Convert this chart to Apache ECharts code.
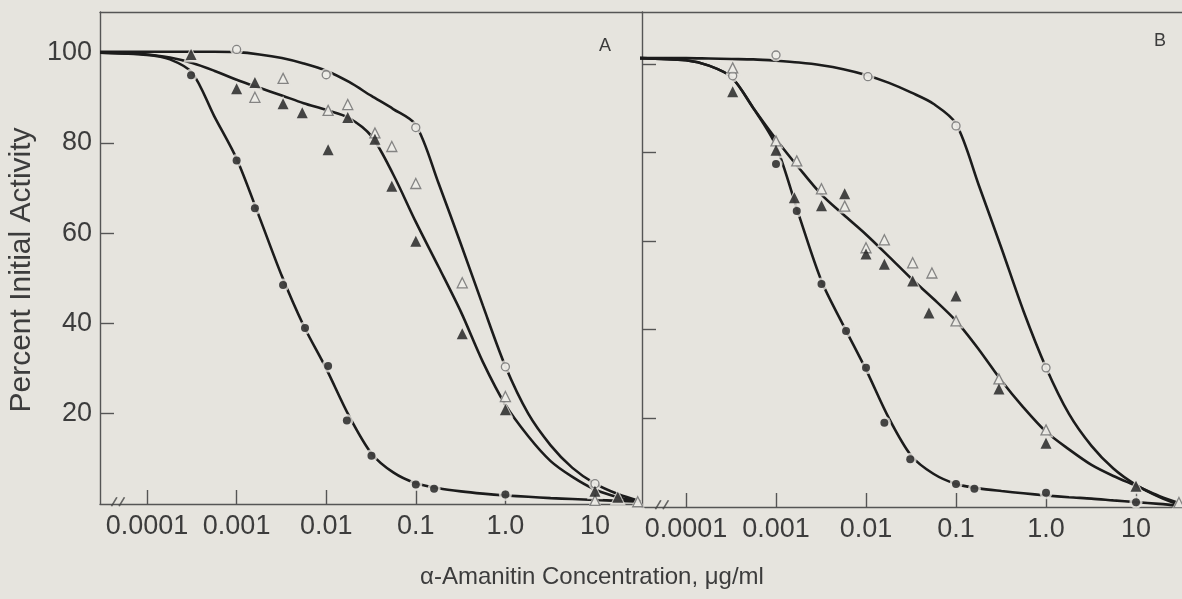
<!DOCTYPE html>
<html><head><meta charset="utf-8">
<script src="https://cdn.jsdelivr.net/npm/echarts@6/dist/echarts.min.js"></script>
<style>html,body{margin:0;padding:0;background:#e6e4de;}#c{width:1182px;height:599px;}</style>
</head><body><div id="c"></div>
<script>
// ---- tick labels ----
const xTickValues = [0.0001, 0.001, 0.01, 0.1, 1, 10];
const xTickLabels = ['0.0001', '0.001', '0.01', '0.1', '1.0', '10'];
const yTickValues = [20, 40, 60, 80, 100];
const yTickLabels = ['20', '40', '60', '80', '100'];

const curveX = [3.0e-5, 1e-4, 1.8e-4, 3.2e-4, 5.6e-4, 1e-3, 1.8e-3, 3.2e-3, 5.6e-3, 0.01, 0.018, 0.032, 0.056, 0.1, 0.18, 0.32, 0.56, 1, 1.8, 3.2, 5.6, 10, 18, 32];

// Panel A curves
const A_curveOpenCircle   = [100.2, 100.2, 100.2, 100.2, 100.2, 100.1, 99.6, 98.8, 97.6, 96.0, 93.5, 90.4, 87.5, 84.0, 71.0, 57.5, 44.0, 30.5, 20.0, 13.0, 8.0, 4.5, 2.2, 0.6];
const A_curveTriangle     = [100.0, 99.6, 98.9, 97.7, 96.0, 94.0, 92.2, 90.5, 88.8, 87.3, 85.5, 81.5, 73.0, 62.5, 52.5, 42.5, 31.5, 22.0, 15.0, 9.5, 6.0, 3.2, 1.5, 0.5];
const A_curveFilledCircle = [100.0, 99.5, 98.5, 95.5, 86.0, 76.5, 63.5, 50.5, 39.5, 30.0, 19.5, 11.2, 7.0, 4.6, 3.5, 2.8, 2.3, 1.9, 1.6, 1.3, 1.1, 0.9, 0.7, 0.5];

// Panel B curves
const B_curveOpenCircle   = [101.3, 101.3, 101.2, 101.1, 101.0, 100.7, 100.3, 99.7, 98.8, 97.5, 95.7, 93.5, 91.0, 86.5, 72.5, 58.4, 44.3, 31.5, 21.0, 13.8, 8.7, 5.0, 2.3, 0.3];
const B_curveTriangle     = [101.3, 100.8, 99.6, 97.0, 90.0, 83.0, 76.5, 70.5, 66.0, 61.5, 56.5, 51.5, 47.0, 42.0, 35.5, 28.5, 22.5, 17.0, 13.0, 9.5, 7.0, 4.8, 2.5, 0.7];
const B_curveFilledCircle = [101.3, 100.8, 99.6, 97.0, 90.0, 81.5, 65.8, 51.0, 41.0, 31.0, 20.0, 11.5, 7.5, 5.2, 4.2, 3.6, 3.1, 2.6, 2.2, 1.9, 1.5, 1.1, 0.7, 0.2];

// ---- measured points [concentration ug/ml, % initial activity] ----
const A_openCircle = [[0.001, 100.7], [0.01, 95.1], [0.1, 83.4], [1.0, 30.4], [10, 4.5]];
const A_openTriangle = [[0.0016, 90.1], [0.0033, 94.3], [0.0105, 87.2], [0.0174, 88.5], [0.035, 82.2], [0.054, 79.2], [0.1, 71.0], [0.33, 49.0], [1.0, 23.8], [10, 0.8], [30, 0.5]];
const A_filledTriangle = [[0.00031, 99.6], [0.001, 92.0], [0.0016, 93.4], [0.0033, 88.7], [0.0054, 86.7], [0.0105, 78.5], [0.0174, 85.6], [0.035, 80.8], [0.054, 70.4], [0.1, 58.2], [0.33, 37.7], [1.0, 20.9], [10, 2.8], [18, 1.5]];
const A_filledCircle = [[0.00031, 95.0], [0.001, 76.1], [0.0016, 65.5], [0.0033, 48.5], [0.0058, 39.0], [0.0105, 30.6], [0.017, 18.5], [0.032, 10.7], [0.1, 4.3], [0.16, 3.4], [1.0, 2.1]];

const B_openCircle = [[0.00033, 97.3], [0.001, 102.0], [0.0105, 97.1], [0.1, 86.0], [1.0, 31.4]];
const B_openTriangle = [[0.00033, 99.1], [0.001, 82.6], [0.0017, 78.1], [0.0032, 71.8], [0.0058, 67.9], [0.01, 58.5], [0.016, 60.3], [0.033, 55.1], [0.054, 52.8], [0.1, 42.0], [0.3, 28.9], [1.0, 17.4], [30, 1.0]];
const B_filledTriangle = [[0.00033, 93.7], [0.001, 80.5], [0.0016, 69.8], [0.0032, 68.0], [0.0058, 70.7], [0.01, 57.1], [0.016, 54.8], [0.033, 51.0], [0.05, 43.8], [0.1, 47.6], [0.3, 26.6], [1.0, 14.4], [10, 4.7]];
const B_filledCircle = [[0.001, 77.4], [0.0017, 66.8], [0.0032, 50.3], [0.006, 39.7], [0.01, 31.4], [0.016, 19.0], [0.031, 10.8], [0.1, 5.2], [0.16, 4.1], [1.0, 3.2], [10, 1.1]];

// axis-break marks on the x axes
const A_break = [[4.74e-5, 0.5]];
const B_break = [[5.4e-5, 0.5]];

// ---- styling ----
const bg = '#e6e4de';
const ink = '#1c1c1c';
const axisColor = '#555555';
const txt = '#3c3c3c';
const font = 'Liberation Sans';

function labelFor(v) {
  let best = 0, bd = Infinity;
  xTickValues.forEach((t, i) => { const d = Math.abs(Math.log10(v) - Math.log10(t)); if (d < bd) { bd = d; best = i; } });
  return bd < 0.01 ? xTickLabels[best] : '';
}
function yLabelFor(v) { const i = yTickValues.indexOf(Math.round(v)); return i >= 0 ? yTickLabels[i] : ''; }

function xBottom(g, min, max) {
  return { type: 'log', logBase: 10, gridIndex: g, min, max, position: 'bottom',
    axisLine: { show: true, onZero: false, lineStyle: { color: axisColor, width: 1.4 } },
    axisTick: { show: true, inside: true, length: 14, customValues: xTickValues, lineStyle: { color: axisColor, width: 1.4 } },
    axisLabel: { show: true, customValues: xTickValues, formatter: labelFor, fontSize: 27, color: txt, fontFamily: font, margin: 9 },
    splitLine: { show: false }, minorTick: { show: false }, minorSplitLine: { show: false } };
}
function xTop(g, min, max) {
  return { type: 'log', logBase: 10, gridIndex: g, min, max, position: 'top',
    axisLine: { show: true, onZero: false, lineStyle: { color: axisColor, width: 1.4 } },
    axisTick: { show: false }, axisLabel: { show: false }, splitLine: { show: false } };
}
function yLeft(g, max, showLabels) {
  return { type: 'value', gridIndex: g, min: 0, max,
    axisLine: { show: true, onZero: false, lineStyle: { color: axisColor, width: 1.4 } },
    axisTick: { show: true, inside: true, length: 14, customValues: yTickValues, lineStyle: { color: axisColor, width: 1.4 } },
    axisLabel: { show: showLabels, customValues: yTickValues, formatter: yLabelFor, fontSize: 27, color: txt, fontFamily: font, margin: 8 },
    splitLine: { show: false } };
}
function curve(vals, ax) {
  return { type: 'line', xAxisIndex: ax[0], yAxisIndex: ax[1], data: curveX.map((x, i) => [x, vals[i]]),
    smooth: 0.3, showSymbol: false, symbol: 'none', clip: true,
    lineStyle: { color: ink, width: 2.6 }, z: 2, silent: true };
}
function halo(data, ax, symbol, size) {
  return { type: 'scatter', xAxisIndex: ax[0], yAxisIndex: ax[1], data, symbol, symbolSize: size + 5,
    itemStyle: { color: bg }, z: 3, silent: true };
}
function mark(data, ax, symbol, size, filled) {
  return { type: 'scatter', xAxisIndex: ax[0], yAxisIndex: ax[1], data, symbol, symbolSize: size,
    itemStyle: filled ? { color: ink } : { color: '#efede8', borderColor: '#6a6a6a', borderWidth: 1.3 }, z: 4, silent: true };
}
function brk(data, ax) {
  return { type: 'scatter', xAxisIndex: ax[0], yAxisIndex: ax[1], data, symbol: 'path://M0,12L5,0M7,12L12,0', symbolSize: [13, 9],
    itemStyle: { color: 'none', borderColor: '#444', borderWidth: 1.4 }, z: 5, silent: true };
}

function panel(ax, oc, ot, ft, fc, cOc, cTr, cFc, br) {
  return [
    curve(cOc, ax), curve(cTr, ax), curve(cFc, ax),
    halo(oc, ax, 'circle', 8), halo(ot, ax, 'triangle', 10), halo(ft, ax, 'triangle', 11), halo(fc, ax, 'circle', 8),
    mark(oc, ax, 'circle', 8, false), mark(ot, ax, 'triangle', 10, false), mark(ft, ax, 'triangle', 11, true), mark(fc, ax, 'circle', 8, true),
    brk(br, ax)
  ];
}

const chart = echarts.init(document.getElementById('c'), null, { renderer: 'canvas' });
chart.setOption({
  backgroundColor: bg,
  animation: false,
  grid: [
    { left: 100, top: 12, width: 542, height: 492 },
    { left: 642, top: 12, width: 540, height: 495 }
  ],
  xAxis: [
    xBottom(0, Math.pow(10, -4.525), Math.pow(10, 1.525)),
    xTop(0, Math.pow(10, -4.525), Math.pow(10, 1.525)),
    xBottom(1, Math.pow(10, -4.489), Math.pow(10, 1.511)),
    xTop(1, Math.pow(10, -4.489), Math.pow(10, 1.511))
  ],
  yAxis: [ yLeft(0, 109, true), yLeft(1, 111.7, false) ],
  series: [
    ...panel([0, 0], A_openCircle, A_openTriangle, A_filledTriangle, A_filledCircle, A_curveOpenCircle, A_curveTriangle, A_curveFilledCircle, A_break),
    ...panel([2, 1], B_openCircle, B_openTriangle, B_filledTriangle, B_filledCircle, B_curveOpenCircle, B_curveTriangle, B_curveFilledCircle, B_break)
  ],
  graphic: [
    { type: 'text', x: 22, y: 270, rotation: Math.PI / 2, style: { text: 'Percent Initial Activity', fontSize: 30, fontFamily: font, fill: txt, align: 'center', verticalAlign: 'middle' } },
    { type: 'text', x: 592, y: 577, style: { text: 'α-Amanitin Concentration, μg/ml', fontSize: 24, fontFamily: font, fill: txt, align: 'center', verticalAlign: 'middle' } },
    { type: 'text', x: 605, y: 46, style: { text: 'A', fontSize: 18, fontFamily: font, fill: txt, align: 'center', verticalAlign: 'middle' } },
    { type: 'text', x: 1160, y: 41, style: { text: 'B', fontSize: 18, fontFamily: font, fill: txt, align: 'center', verticalAlign: 'middle' } }
  ]
});
</script></body></html>
